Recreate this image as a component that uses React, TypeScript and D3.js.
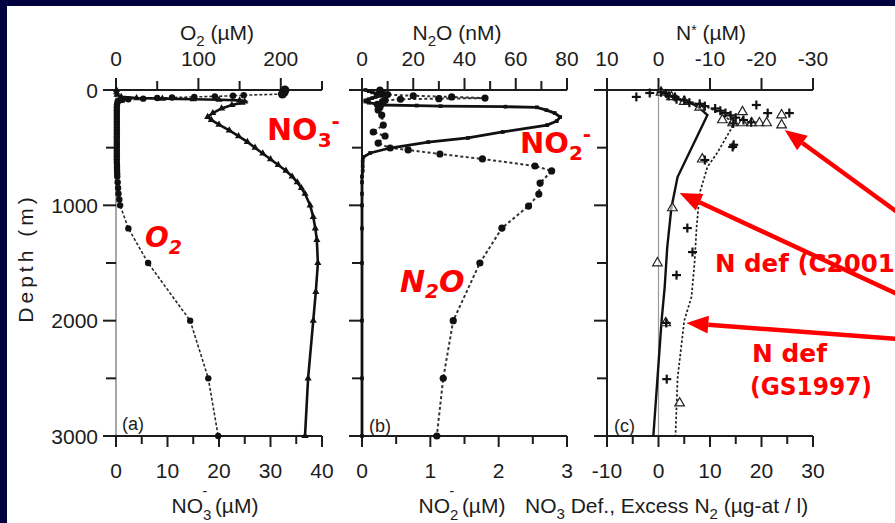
import React from "react";
import * as d3 from "d3";

const WIDTH = 895;
const HEIGHT = 523;

// Depth axis (shared by all three panels)
const depthTicks = [0, 500, 1000, 1500, 2000, 2500, 3000];
const depthLabels = [0, 1000, 2000, 3000];

// Panel (a): nitrate (bottom) and oxygen (top)
const no3Ticks = [0, 5, 10, 15, 20, 25, 30, 35, 40];
const no3Labels = [0, 10, 20, 30, 40];
const o2Ticks = [0, 50, 100, 150, 200, 250];
const o2Labels = [0, 100, 200];

// Panel (b): nitrite (bottom) and nitrous oxide (top)
const no2Ticks = [0, 0.5, 1, 1.5, 2, 2.5, 3];
const no2Labels = [0, 1, 2, 3];
const n2oTicks = [0, 10, 20, 30, 40, 50, 60, 70, 80];
const n2oLabels = [0, 20, 40, 60, 80];

// Panel (c): nitrate deficit / excess N2 (bottom) and N* (top)
const ndefTicks = [-10, -5, 0, 5, 10, 15, 20, 25, 30];
const ndefLabels = [-10, 0, 10, 20, 30];
const nstarTicks = [10, 0, -10, -20, -30];
const nstarLabels = [10, 0, -10, -20, -30];

// [depth (m), O2 (µM)]
const o2Profile: [number, number][] = [
  [0, 205], [20, 204], [35, 202], [45, 155], [50, 142], [55, 120], [60, 95],
  [65, 68], [70, 50], [75, 33], [80, 15], [85, 8], [90, 4], [100, 2],
  [125, 1.2], [150, 1], [175, 1], [200, 1], [225, 1], [250, 1], [275, 1],
  [300, 1], [325, 1], [350, 1], [375, 1], [400, 1], [425, 1], [450, 1],
  [475, 1], [500, 1], [525, 1], [550, 1], [575, 1], [600, 1], [625, 1],
  [650, 1.2], [675, 1.2], [700, 1.3], [725, 1.4], [750, 1.5], [800, 2],
  [850, 2.5], [900, 3], [950, 4], [1000, 5], [1200, 15], [1500, 39],
  [2000, 90], [2500, 112], [3000, 124],
];

// [depth (m), NO3- (µM)]
const no3Profile: [number, number][] = [
  [0, 0.1], [20, 0.1], [40, 0.2], [60, 1], [70, 4], [75, 9], [80, 15],
  [85, 20], [90, 24], [100, 25], [110, 24.5], [130, 22.5], [160, 20.5],
  [200, 18.8], [234, 17.8], [260, 18.5], [300, 20], [350, 22], [400, 23.8],
  [450, 25.5], [500, 27], [550, 28.5], [600, 30], [650, 31.5], [700, 33],
  [750, 34.2], [800, 35.2], [850, 36], [900, 36.7], [1000, 37.7],
  [1100, 38.3], [1200, 38.7], [1300, 39], [1500, 39.2], [1750, 38.8],
  [2000, 38.3], [2500, 37.3], [3000, 36.7],
];

// [depth (m), NO2- (µM)]
const no2Profile: [number, number][] = [
  [0, 0.05], [10, 0.1], [20, 0.15], [30, 0.2], [40, 0.25], [50, 0.3],
  [60, 0.2], [70, 0.15], [80, 0.1], [90, 0.05], [100, 0.05], [110, 0.1],
  [120, 0.2], [130, 0.3], [135, 0.8], [140, 1.15], [145, 2.1], [150, 2.56],
  [175, 2.7], [200, 2.82], [234, 2.9], [270, 2.85], [304, 2.71],
  [364, 2.06], [416, 1.55], [451, 0.97], [503, 0.41], [546, 0.12],
  [581, 0.02], [620, 0.01], [660, 0.01], [700, 0.01], [750, 0], [800, 0],
  [900, 0], [1000, 0], [1200, 0], [1500, 0], [2000, 0], [2500, 0], [3000, 0],
];

// [depth (m), N2O (nM)]
const n2oProfile: [number, number][] = [
  [0, 7], [10, 7], [20, 7.5], [30, 8], [40, 10], [50, 20], [60, 35],
  [70, 48], [75, 30], [80, 15], [90, 9], [100, 8], [125, 6], [150, 7],
  [173, 6.3], [217, 7.7], [304, 8.3], [364, 4.4], [399, 9], [460, 6.3],
  [503, 11], [520, 18], [555, 30.4], [598, 47], [659, 67.5], [702, 74],
  [807, 69.5], [902, 69], [1006, 65], [1197, 54.6], [1500, 46],
  [2000, 35.6], [2500, 31.7], [3000, 29.2],
];

// [depth (m), N deficit (µg-at/l)] — C2001 (solid) and GS1997 (dashed)
const ndefC2001: [number, number][] = [
  [0, 0.5], [20, 1], [40, 1.5], [60, 2.5], [80, 4], [100, 5.5], [130, 7],
  [160, 8], [190, 8.8], [217, 9.5], [755, 3.7], [1023, 2.5], [1362, 1.7],
  [1709, 1.2], [2000, 0.6], [2500, -0.2], [3000, -1],
];
const ndefGS1997: [number, number][] = [
  [0, 0.5], [30, 1.5], [60, 3], [90, 5], [120, 7.5], [150, 9.5], [200, 12],
  [250, 13.5], [300, 14.3], [330, 14.2], [538, 11.5], [668, 9.5],
  [893, 8], [1188, 7.4], [1500, 7], [1795, 6.4], [2000, 5], [2500, 3.7],
  [3000, 3.3],
];

// Individual estimates: [depth (m), value]
const excessCross: [number, number][] = [
  [26, -1.7], [60, -4.3], [20, 0.5], [30, 1.5], [50, 2], [60, 3.2],
  [80, 3.5], [90, 5], [110, 6], [120, 8], [140, 9], [160, 11], [180, 12],
  [200, 13], [220, 14], [240, 15], [260, 16.5], [280, 18], [130, 19],
  [200, 21.2], [200, 25.4], [290, 14.5], [494, 14.4], [475, 14.6],
  [607, 9], [1197, 5.6], [1405, 6.6], [1605, 3.5], [2020, 1.5], [2507, 1.6],
];
const excessTriangle: [number, number][] = [
  [20, 0.5], [60, 2.5], [100, 5], [150, 8], [190, 16.3], [217, 23.9],
  [260, 12.4], [286, 14.4], [286, 16.3], [286, 18.1], [286, 19.6], [286, 21],
  [304, 23.9], [600, 8.5], [1023, 2.7], [1500, -0.2], [2020, 1.4], [2715, 4.1],
];

// Arrow targets in data space [depth (m), N deficit]
const arrowTargets: [number, number][] = [[347, 24.5], [893, 4.1], [2020, 5.4]];

const TOP = 90;
const BOTTOM = 436;
const y = d3.scaleLinear().domain([0, 3000]).range([TOP, BOTTOM]);

const A = { left: 116, right: 322 };
const B = { left: 362, right: 567 };
const C = { left: 607, right: 813 };

const xNo3 = d3.scaleLinear().domain([0, 40]).range([A.left, A.right]);
const xO2 = d3.scaleLinear().domain([0, 250]).range([A.left, A.right]);
const xNo2 = d3.scaleLinear().domain([0, 3]).range([B.left, B.right]);
const xN2o = d3.scaleLinear().domain([0, 80]).range([B.left, B.right]);
const xNdef = d3.scaleLinear().domain([-10, 30]).range([C.left, C.right]);
const xNstar = d3.scaleLinear().domain([10, -30]).range([C.left, C.right]);

const AXIS = "#1c1c1c";
const FONT = "'Liberation Sans', Arial, Helvetica, sans-serif";
const RED = "#ff0000";
const RED_FONT = "'DejaVu Sans', Verdana, sans-serif";

type Scale = d3.ScaleLinear<number, number>;

function Frame(props: {
  left: number; right: number;
  bottom: Scale; bottomTicks: number[]; bottomLabels: number[];
  top: Scale; topTicks: number[]; topLabels: number[];
  depthText?: boolean; leftColor?: string;
}) {
  const { left, right, bottom, bottomTicks, bottomLabels, top, topTicks, topLabels } = props;
  return (
    <g>
      <line x1={left} x2={left} y1={TOP} y2={BOTTOM} stroke={props.leftColor || AXIS} strokeWidth={props.leftColor ? 1.5 : 2} />
      <line x1={left} x2={right} y1={TOP} y2={TOP} stroke={AXIS} strokeWidth={2} />
      <line x1={left} x2={right} y1={BOTTOM} y2={BOTTOM} stroke={AXIS} strokeWidth={2} />
      {depthTicks.map((d) => {
        const major = depthLabels.includes(d);
        return <line key={"d" + d} x1={left - (major ? 13 : 10)} x2={left} y1={y(d)} y2={y(d)} stroke={AXIS} strokeWidth={2} />;
      })}
      {props.depthText && depthLabels.map((d) => (
        <text key={"dl" + d} x={98} y={y(d) + 7.5} textAnchor="end" fontSize={21} fill={AXIS} fontFamily={FONT}>{d}</text>
      ))}
      {bottomTicks.map((t) => {
        const major = bottomLabels.includes(t);
        return <line key={"b" + t} x1={bottom(t)} x2={bottom(t)} y1={BOTTOM} y2={BOTTOM + (major ? 11 : 8)} stroke={AXIS} strokeWidth={2} />;
      })}
      {bottomLabels.map((t) => (
        <text key={"bl" + t} x={bottom(t)} y={478} textAnchor="middle" fontSize={21} fill={AXIS} fontFamily={FONT}>{String(t)}</text>
      ))}
      {topTicks.map((t) => {
        const major = topLabels.includes(t);
        return <line key={"t" + t} x1={top(t)} x2={top(t)} y1={TOP} y2={TOP - (major ? 12 : 9)} stroke={AXIS} strokeWidth={2} />;
      })}
      {topLabels.map((t) => (
        <text key={"tl" + t} x={top(t)} y={66} textAnchor="middle" fontSize={21} fill={AXIS} fontFamily={FONT}>{String(t)}</text>
      ))}
    </g>
  );
}

function profilePath(data: [number, number][], xs: Scale) {
  return d3.line<[number, number]>().x((d) => xs(d[1])).y((d) => y(d[0]))(data) || "";
}

const triPath = d3.symbol().type(d3.symbolTriangle).size(22)() || "";
const squarePath = d3.symbol().type(d3.symbolSquare).size(14)() || "";
const openTri = d3.symbol().type(d3.symbolTriangle).size(40)() || "";

function Arrow({ x1, y1, x2, y2 }: { x1: number; y1: number; x2: number; y2: number }) {
  const ang = Math.atan2(y2 - y1, x2 - x1);
  const len = 22, half = 9;
  const bx = x2 - len * Math.cos(ang), by = y2 - len * Math.sin(ang);
  const px = -Math.sin(ang) * half, py = Math.cos(ang) * half;
  return (
    <g>
      <line x1={x1} y1={y1} x2={bx} y2={by} stroke={RED} strokeWidth={4.5} />
      <polygon points={`${x2},${y2} ${bx + px},${by + py} ${bx - px},${by - py}`} fill={RED} />
    </g>
  );
}

export default function App() {
  const arrowTails = [[WIDTH + 2, 212], [WIDTH + 2, 294], [WIDTH + 2, 339]];
  const sp = "\u00a0";
  return (
    <svg width={WIDTH} height={HEIGHT} style={{ position: "absolute", left: 0, top: 0, display: "block" }}>
      <rect x={0} y={0} width={WIDTH} height={HEIGHT} fill="#00003e" />
      <rect x={7} y={6} width={WIDTH - 7} height={HEIGHT - 6} fill="#ffffff" />

      {/* Axis titles, top */}
      <text x={217} y={40} textAnchor="middle" fontSize={21} fill={AXIS} fontFamily={FONT}>
        O<tspan fontSize={15} dy={6}>2</tspan><tspan dy={-6}>{sp + "(µM)"}</tspan>
      </text>
      <text x={457} y={40} textAnchor="middle" fontSize={21} fill={AXIS} fontFamily={FONT}>
        N<tspan fontSize={15} dy={6}>2</tspan><tspan dy={-6}>{"O" + sp + "(nM)"}</tspan>
      </text>
      <text x={711} y={40} textAnchor="middle" fontSize={21} fill={AXIS} fontFamily={FONT}>
        N<tspan fontSize={14} dy={-5}>*</tspan><tspan dy={5}>{sp + "(µM)"}</tspan>
      </text>

      {/* Axis titles, bottom */}
      <text x={215} y={513} textAnchor="middle" fontSize={21} fill={AXIS} fontFamily={FONT}>
        NO<tspan fontSize={15} dy={7}>3</tspan><tspan fontSize={14} dx={-9} dy={-24}>-</tspan><tspan dx={2} dy={17}>{sp + "(µM)"}</tspan>
      </text>
      <text x={462} y={513} textAnchor="middle" fontSize={21} fill={AXIS} fontFamily={FONT}>
        NO<tspan fontSize={15} dy={7}>2</tspan><tspan fontSize={14} dx={-9} dy={-24}>-</tspan><tspan dx={2} dy={17}>{sp + "(µM)"}</tspan>
      </text>
      <text x={525} y={513} textAnchor="start" fontSize={21} fill={AXIS} fontFamily={FONT}>
        NO<tspan fontSize={15} dy={6}>3</tspan><tspan dy={-6}>{sp + "Def., Excess N"}</tspan><tspan fontSize={15} dy={6}>2</tspan><tspan dy={-6}>{sp + "(µg-at / l)"}</tspan>
      </text>

      {/* Depth title */}
      <text transform="translate(33,258) rotate(-90)" textAnchor="middle" fontSize={21} letterSpacing={4} fill={AXIS} fontFamily={FONT}>Depth (m)</text>

      {/* Panel (a) */}
      <Frame left={A.left} right={A.right} bottom={xNo3} bottomTicks={no3Ticks} bottomLabels={no3Labels}
        top={xO2} topTicks={o2Ticks} topLabels={o2Labels} depthText leftColor="#8a8a8a" />
      <path d={profilePath(o2Profile, xO2)} fill="none" stroke="#2a2a2a" strokeWidth={1.6} strokeDasharray="3,2" />
      {o2Profile.map((d, i) => (
        <circle key={"o" + i} cx={xO2(d[1])} cy={y(d[0])} r={i < 3 ? 4.5 : 3.2} fill="#111" />
      ))}
      <path d={profilePath(no3Profile, xNo3)} fill="none" stroke="#111" strokeWidth={2.6} />
      {no3Profile.map((d, i) => (
        <path key={"n3" + i} d={triPath} transform={`translate(${xNo3(d[1])},${y(d[0])})`} fill="#111" />
      ))}
      <text x={122} y={430} fontSize={18} fill={AXIS} fontFamily={FONT}>(a)</text>

      {/* Panel (b) */}
      <Frame left={B.left} right={B.right} bottom={xNo2} bottomTicks={no2Ticks} bottomLabels={no2Labels}
        top={xN2o} topTicks={n2oTicks} topLabels={n2oLabels} />
      <path d={profilePath(n2oProfile, xN2o)} fill="none" stroke="#333" strokeWidth={2} strokeDasharray="3,2.5" />
      {n2oProfile.map((d, i) => (
        <circle key={"n2o" + i} cx={xN2o(d[1])} cy={y(d[0])} r={3.6} fill="#111" />
      ))}
      <path d={profilePath(no2Profile, xNo2)} fill="none" stroke="#111" strokeWidth={2.8} />
      {no2Profile.map((d, i) => (
        <path key={"n2" + i} d={squarePath} transform={`translate(${xNo2(d[1])},${y(d[0])})`} fill="#111" />
      ))}
      <text x={369} y={432} fontSize={18} fill={AXIS} fontFamily={FONT}>(b)</text>

      {/* Panel (c) */}
      <line x1={xNdef(0)} x2={xNdef(0)} y1={TOP} y2={BOTTOM} stroke="#9a9a9a" strokeWidth={1.2} />
      <Frame left={C.left} right={C.right} bottom={xNdef} bottomTicks={ndefTicks} bottomLabels={ndefLabels}
        top={xNstar} topTicks={nstarTicks} topLabels={nstarLabels} />
      <path d={profilePath(ndefGS1997, xNdef)} fill="none" stroke="#222" strokeWidth={1.7} strokeDasharray="2.5,2" />
      <path d={profilePath(ndefC2001, xNdef)} fill="none" stroke="#111" strokeWidth={2.4} />
      {excessTriangle.map((d, i) => (
        <path key={"tr" + i} d={openTri} transform={`translate(${xNdef(d[1])},${y(d[0])})`} fill="#fff" fillOpacity={0.6} stroke="#222" strokeWidth={1.2} />
      ))}
      {excessCross.map((d, i) => {
        const cx = xNdef(d[1]);
        const cy = y(d[0]);
        return (
          <g key={"cr" + i} stroke="#111" strokeWidth={2.2}>
            <line x1={cx - 4.5} x2={cx + 4.5} y1={cy} y2={cy} />
            <line x1={cx} x2={cx} y1={cy - 4.5} y2={cy + 4.5} />
          </g>
        );
      })}
      <text x={614} y={432} fontSize={18} fill={AXIS} fontFamily={FONT}>(c)</text>

      {/* Species labels */}
      <text x={267} y={140} fontSize={30} fontWeight="bold" fill={RED} fontFamily={RED_FONT}>
        NO<tspan fontSize={20} dy={7}>3</tspan><tspan fontSize={20} dy={-19}>-</tspan>
      </text>
      <text x={145} y={247} fontSize={28} fontWeight="bold" fontStyle="italic" fill={RED} fontFamily={RED_FONT}>
        O<tspan fontSize={19} dy={7}>2</tspan>
      </text>
      <text x={520} y={153} fontSize={29} fontWeight="bold" fill={RED} fontFamily={RED_FONT}>
        NO<tspan fontSize={20} dy={7}>2</tspan><tspan fontSize={20} dy={-19}>-</tspan>
      </text>
      <text x={400} y={292} fontSize={30} fontWeight="bold" fontStyle="italic" fill={RED} fontFamily={RED_FONT}>
        N<tspan fontSize={20} dy={6}>2</tspan><tspan dy={-6}>O</tspan>
      </text>

      <text x={715} y={272} fontSize={25} fontWeight="bold" fill={RED} fontFamily={RED_FONT} textLength={191} lengthAdjust="spacingAndGlyphs">N def (C2001)</text>
      <text x={752} y={362} fontSize={25} fontWeight="bold" fill={RED} fontFamily={RED_FONT} textLength={75} lengthAdjust="spacingAndGlyphs">N def</text>
      <text x={750} y={395} fontSize={25} fontWeight="bold" fill={RED} fontFamily={RED_FONT} textLength={122} lengthAdjust="spacingAndGlyphs">(GS1997)</text>

      {arrowTargets.map((t, i) => (
        <Arrow key={"ar" + i} x1={arrowTails[i][0]} y1={arrowTails[i][1]} x2={xNdef(t[1])} y2={y(t[0])} />
      ))}
    </svg>
  );
}
